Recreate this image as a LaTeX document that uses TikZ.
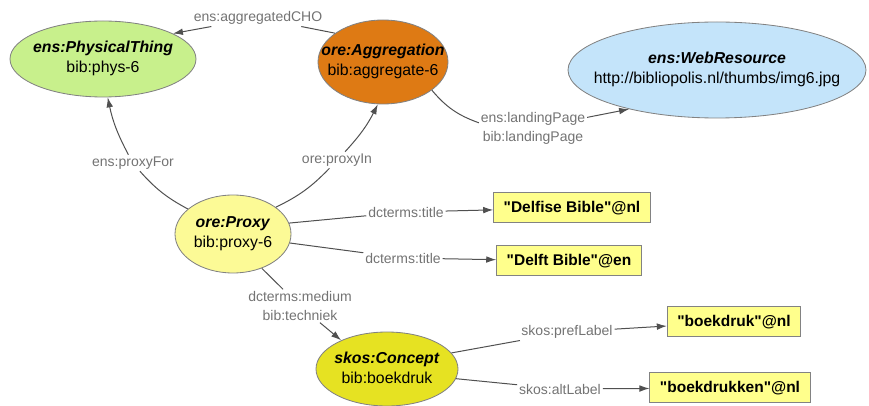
\documentclass[tikz,border=0pt]{standalone}
\usepackage{fontspec}
\setmainfont{Liberation Sans}
\usetikzlibrary{shapes.geometric,arrows.meta}

\definecolor{physGreen}{RGB}{200,240,140}
\definecolor{aggOrange}{RGB}{222,122,20}
\definecolor{webBlue}{RGB}{196,228,250}
\definecolor{proxyYellow}{RGB}{252,250,150}
\definecolor{conceptYellow}{RGB}{230,226,34}
\definecolor{literalYellow}{RGB}{255,255,140}
\definecolor{edgeGray}{RGB}{80,80,80}
\definecolor{labelGray}{RGB}{115,115,115}
\definecolor{borderGray}{RGB}{130,130,130}

% Class name over resource name, kept out of the ellipse size
\newcommand{\resText}[2]{\makebox[0pt]{\begin{tabular}{@{}c@{}}\textbf{\textit{#1}}\\#2\end{tabular}}}

\begin{document}
\begin{tikzpicture}[x=0.6pt,y=-0.6pt,
    resource/.style={ellipse, draw=borderGray, line width=0.5pt, inner sep=0pt, font=\fontsize{9.5}{12}\selectfont},
    literal/.style={rectangle, draw=borderGray, line width=0.6pt, fill=literalYellow, inner xsep=6pt, minimum height=18pt, font=\bfseries\fontsize{9.3}{11}\selectfont},
    prop/.style={text=labelGray, inner sep=1pt, align=center, font=\fontsize{8.4}{11.4}\selectfont},
    link/.style={draw=edgeGray, line width=0.6pt},
    arc/.style={link, -{Latex[length=6pt,width=4pt]}}]
    \useasboundingbox (0,0) rectangle (869,406);

    % Define the positions of the resources
    \coordinate (physPos) at (103,59);
    \coordinate (aggPos) at (383,62);
    \coordinate (webPos) at (717,70);
    \coordinate (proxyPos) at (233,234);
    \coordinate (conceptPos) at (387,369);

    % Draw the resources
    \node[resource, fill=physGreen, minimum width=111.6pt, minimum height=45.6pt] (phys) at (physPos) {\resText{ens:PhysicalThing}{bib:phys-6}};
    \node[resource, fill=aggOrange, minimum width=78pt, minimum height=50.4pt] (agg) at (aggPos) {\resText{ore:Aggregation}{bib:aggregate-6}};
    \node[resource, fill=webBlue, minimum width=178.8pt, minimum height=57.6pt] (web) at (webPos) {\resText{ens:WebResource}{http://bibliopolis.nl/thumbs/img6.jpg}};
    \node[resource, fill=proxyYellow, minimum width=69.6pt, minimum height=46.8pt] (proxy) at (proxyPos) {\resText{ore:Proxy}{bib:proxy-6}};
    \node[resource, fill=conceptYellow, minimum width=85.2pt, minimum height=44.4pt] (concept) at (conceptPos) {\resText{skos:Concept}{bib:boekdruk}};

    % Draw the literals
    \node[literal] (litNl) at (572,208) {\textquotedbl Delfise Bible\textquotedbl @nl};
    \node[literal] (litEn) at (569,261) {\textquotedbl Delft Bible\textquotedbl @en};
    \node[literal] (litPref) at (734,322) {\textquotedbl boekdruk\textquotedbl @nl};
    \node[literal] (litAlt) at (730,388) {\textquotedbl boekdrukken\textquotedbl @nl};

    % Draw the property labels
    \node[prop] (lblCHO) at (258,18) {ens:aggregatedCHO};
    \node[prop] (lblFor) at (133,163) {ens:proxyFor};
    \node[prop] (lblIn) at (337,160) {ore:proxyIn};
    \node[prop] (lblTitleNl) at (406,212) {dcterms:title};
    \node[prop] (lblTitleEn) at (403,258) {dcterms:title};
    \node[prop] (lblMedium) at (300,306) {dcterms:medium\\bib:techniek};
    \node[prop] (lblLanding) at (533,128) {ens:landingPage\\bib:landingPage};
    \node[prop] (lblPref) at (567,332) {skos:prefLabel};
    \node[prop] (lblAlt) at (560,389) {skos:altLabel};

    % Draw the edges through their labels
    \draw[link] (agg.149) -- (lblCHO);
    \draw[arc] (lblCHO) -- (phys.20);
    \draw[link] (proxy.151) to[bend left=10] (lblFor);
    \draw[arc] (lblFor) to[bend left=8] (phys.277);
    \draw[link] (proxy.32) to[bend right=10] (lblIn);
    \draw[arc] (lblIn) to[bend right=8] (agg.263);
    \draw[link] (proxy.11) -- (lblTitleNl);
    \draw[arc] (lblTitleNl) -- (litNl);
    \draw[link] (proxy.351) -- (lblTitleEn);
    \draw[arc] (lblTitleEn) -- (litEn);
    \draw[link] (proxy.310) -- (lblMedium);
    \draw[arc] (lblMedium) -- (concept.148);
    \draw[link] (agg.330) to[bend right=15] (lblLanding);
    \draw[arc] (lblLanding) -- (web.204);
    \draw[link] (concept.14) -- (lblPref);
    \draw[arc] (lblPref) -- (litPref);
    \draw[link] (concept.352) -- (lblAlt);
    \draw[arc] (lblAlt) -- (litAlt);
\end{tikzpicture}
\end{document}
